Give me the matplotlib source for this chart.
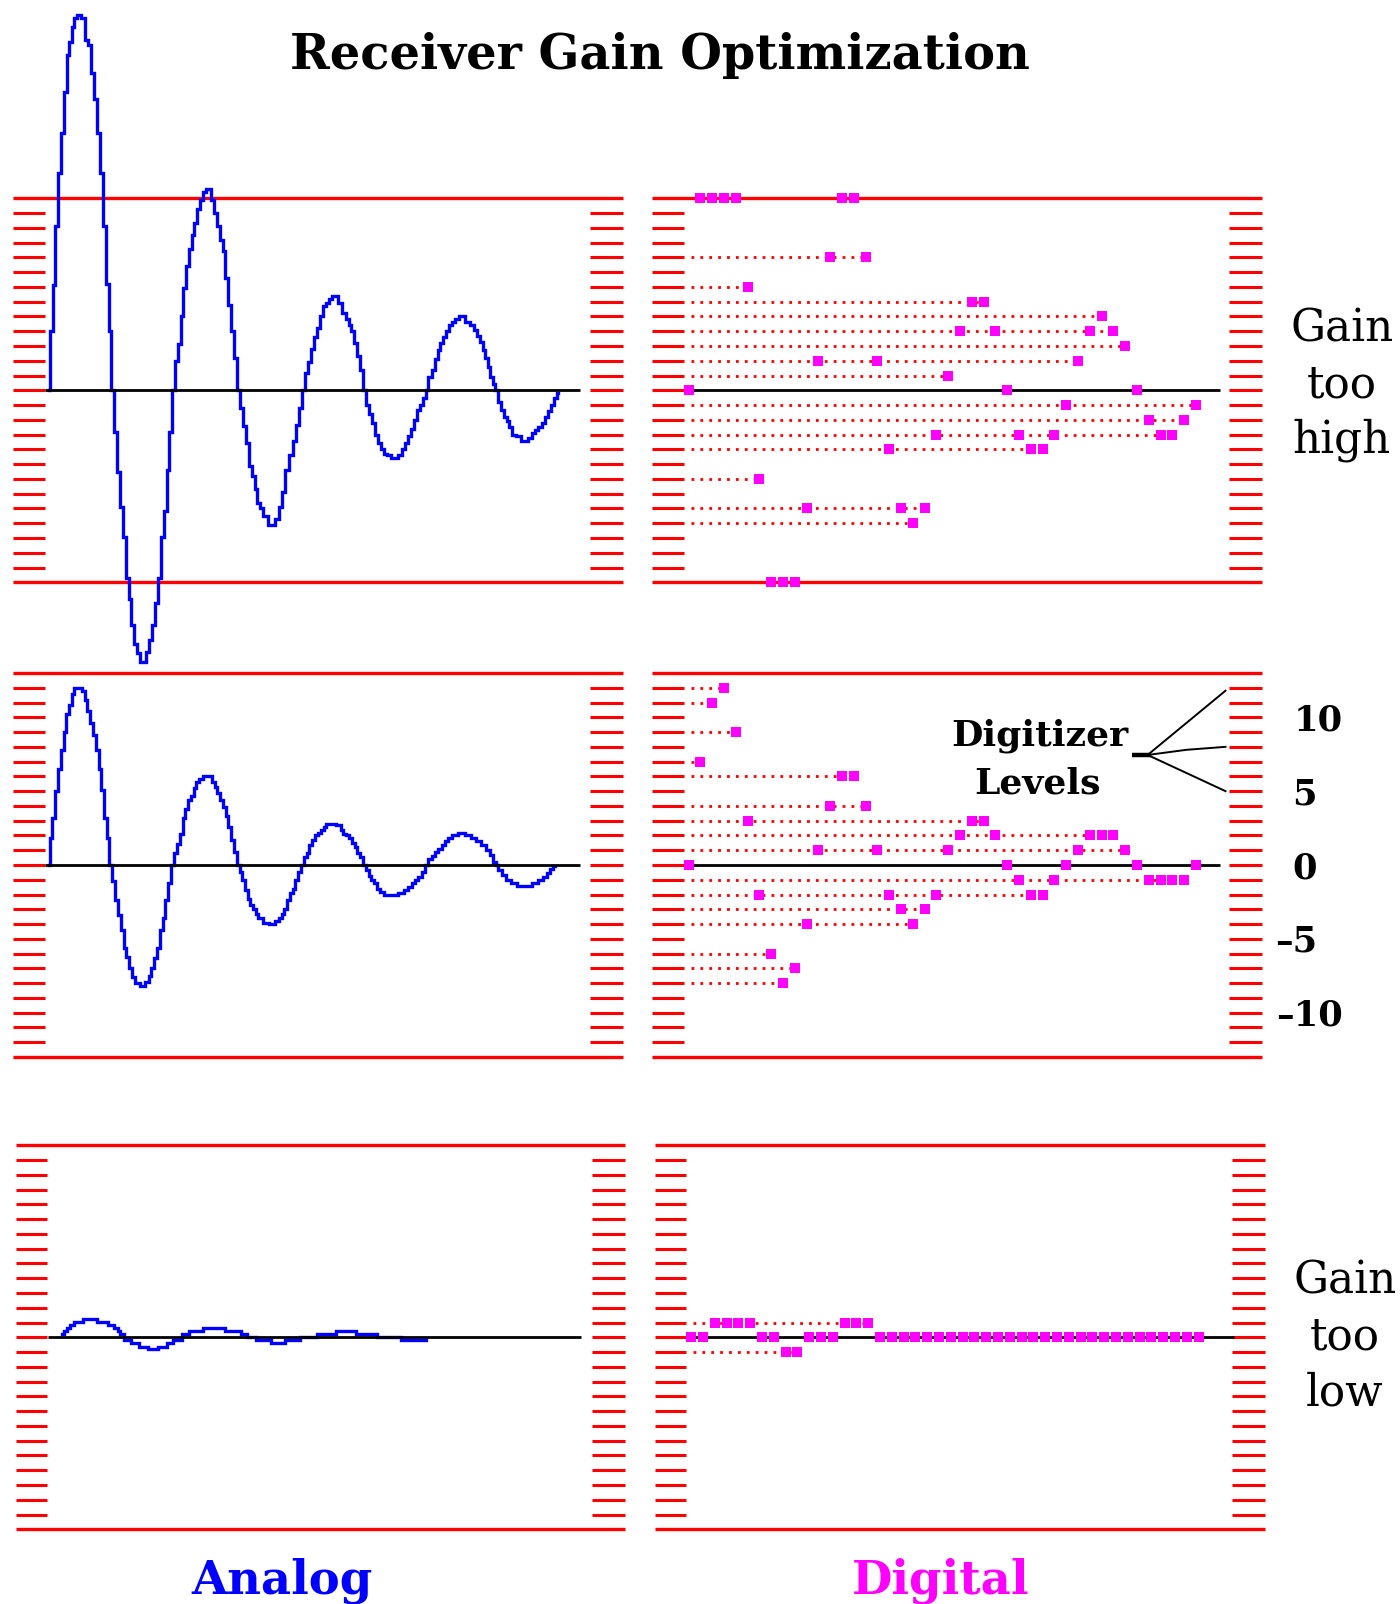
import numpy as np
import matplotlib.pyplot as plt

digital_high = [0, 13, 13, 13, 13, 7, -6, -13, -13, -13,
                -8, 2, 9, 13, 13, 9, 2, -4, -8, -9,
                -8, -3, 1, 4, 6, 6, 4, 0, -3, -4,
                -4, -3, -1, 2, 4, 5, 4, 3, 0, -2,
                -3, -3, -2, -1]
digital_mid = [0, 7, 11, 12, 9, 3, -2, -6, -8, -7,
               -4, 1, 4, 6, 6, 4, 1, -2, -3, -4,
               -3, -2, 1, 2, 3, 3, 2, 0, -1, -2,
               -2, -1, 0, 1, 2, 2, 2, 1, 0, -1,
               -1, -1, -1, 0]
digital_low = [0, 0, 1, 1, 1, 1, 0, 0, -1, -1,
               0, 0, 0, 1, 1, 1, 0, 0, 0, 0,
               0, 0, 0, 0, 0, 0, 0, 0, 0, 0,
               0, 0, 0, 0, 0, 0, 0, 0, 0, 0,
               0, 0, 0, 0]

# analog traces: (time in samples, amplitude in digitizer levels)
analog_high = [
    (0, 0), (0.14, 4.0), (0.39, 7.15), (0.63, 11.1), (0.90, 14.7), (1.15, 17.4),
    (1.36, 20.2), (1.58, 22.7), (1.80, 23.6), (2.01, 24.6), (2.21, 25.2), (2.54, 25.4),
    (2.88, 25.2), (3.12, 23.7), (3.37, 23.4), (3.61, 21.5), (3.87, 19.7), (4.13, 17.4),
    (4.39, 14.7), (4.64, 11.1), (4.89, 7.2), (5.15, 4.0), (5.28, 0),
    (5.62, -2.8), (5.87, -5.5), (6.08, -7.9), (6.34, -9.9), (6.60, -12.7), (6.83, -14.1),
    (7.06, -15.9), (7.28, -17.2), (7.51, -17.8), (7.93, -18.4), (8.36, -17.7), (8.60, -16.9),
    (8.84, -15.9), (9.08, -14.4), (9.33, -12.7), (9.58, -9.9), (9.82, -8.2), (10.05, -5.4),
    (10.29, -2.8), (10.50, 0),
    (10.76, 2.0), (11.00, 3.15), (11.24, 5.0), (11.46, 6.9), (11.70, 8.4), (11.94, 9.6),
    (12.17, 10.5), (12.41, 11.3), (12.65, 12.3), (12.88, 12.9), (13.10, 13.4), (13.48, 13.6),
    (13.85, 12.9), (14.06, 12.0), (14.30, 11.1), (14.56, 10.2), (14.80, 9.4), (15.04, 7.6),
    (15.29, 5.8), (15.53, 4.0), (15.77, 2.2), (16.04, 0),
    (16.27, -1.2), (16.53, -2.4), (16.79, -3.6), (17.03, -5.1), (17.27, -5.8), (17.51, -6.7),
    (17.73, -7.6), (17.96, -8.0), (18.24, -8.5), (18.83, -9.1), (19.35, -8.7), (19.58, -7.9),
    (19.84, -6.9), (20.06, -5.4), (20.5, -4.4), (20.76, -3.4), (21.0, -2.35), (21.25, -1.2),
    (21.5, 0),
    (21.8, 1.2), (22.02, 1.9), (22.28, 2.8), (22.54, 3.6), (22.79, 4.2), (23.04, 5.0),
    (23.3, 5.7), (23.55, 5.9), (23.78, 6.2), (24.2, 6.4), (24.68, 5.9), (24.97, 5.2),
    (25.22, 4.8), (25.48, 4.4), (25.7, 4.0), (25.98, 3.2), (26.24, 2.3), (26.46, 1.4),
    (26.69, 0),
    (26.95, -1.0), (27.2, -1.6), (27.45, -2.2), (27.68, -3.0), (27.96, -3.6), (28.22, -4.0),
    (28.45, -4.3), (28.7, -4.4), (29.26, -4.6), (29.74, -4.4), (29.99, -4.0), (30.25, -3.6),
    (30.5, -3.1), (30.76, -2.6), (31.01, -2.0), (31.27, -1.3), (31.55, -1.0), (31.8, -0.5),
    (31.97, 0),
    (32.25, 0.9), (32.53, 1.4), (32.76, 2.1), (33.02, 2.7), (33.24, 3.2), (33.5, 3.6),
    (33.72, 4.0), (33.98, 4.4), (34.23, 4.65), (34.49, 4.8), (35.0, 5.0), (35.5, 4.65),
    (35.84, 4.4), (36.07, 4.1), (36.35, 3.7), (36.6, 3.3), (36.83, 2.7), (37.06, 2.2),
    (37.28, 1.6), (37.48, 0.9), (37.68, 0.4), (37.9, 0),
    (38.16, -0.8), (38.38, -1.3), (38.64, -1.8), (38.86, -2.1), (39.12, -2.5), (39.37, -3.0),
    (39.63, -3.1), (40.31, -3.4), (40.73, -3.2), (41.0, -2.9), (41.3, -2.7), (41.58, -2.5),
    (41.86, -2.2), (42.14, -1.8), (42.37, -1.4), (42.65, -1.0), (42.9, -0.5), (43.13, -0.15),
]
analog_mid = [
    (0, 0), (0.14, 1.8), (0.36, 3.2), (0.62, 5.0), (0.84, 6.5), (1.07, 7.8), (1.32, 9.0),
    (1.55, 10.2), (1.78, 10.8), (2.0, 11.6), (2.25, 12.0), (2.6, 12.0), (2.88, 11.8),
    (3.1, 11.2), (3.33, 10.4), (3.58, 9.6), (3.81, 8.8), (4.04, 7.8), (4.29, 6.5),
    (4.52, 5.1), (4.74, 3.2), (4.97, 1.8), (5.2, 0),
    (5.47, -1.1), (5.7, -2.4), (5.93, -3.4), (6.18, -4.4), (6.41, -5.6), (6.63, -6.2),
    (6.89, -7.0), (7.12, -7.6), (7.34, -8.0), (7.96, -8.2), (8.3, -7.9), (8.53, -7.5),
    (8.76, -7.0), (9.01, -6.3), (9.24, -5.6), (9.49, -4.4), (9.72, -3.6), (9.94, -2.4),
    (10.19, -1.2), (10.45, 0),
    (10.7, 0.8), (10.93, 1.4), (11.16, 2.1), (11.41, 3.2), (11.63, 3.8), (11.86, 4.4),
    (12.09, 4.7), (12.34, 5.2), (12.57, 5.6), (12.8, 5.8), (13.22, 6.0), (13.64, 6.0),
    (13.89, 5.6), (14.12, 5.3), (14.37, 4.9), (14.6, 4.4), (14.83, 3.95), (15.06, 3.3),
    (15.28, 2.6), (15.54, 1.7), (15.77, 0.9), (16.0, 0),
    (16.23, -0.45), (16.44, -1.0), (16.67, -1.7), (16.92, -2.3), (17.15, -2.7), (17.37, -3.0),
    (17.59, -3.3), (17.85, -3.6), (18.36, -3.95), (18.87, -4.0), (19.32, -3.8), (19.57, -3.6),
    (19.8, -3.3), (20.03, -3.0), (20.28, -2.4), (20.51, -1.9), (20.73, -1.6), (20.96, -1.0),
    (21.21, -0.45), (21.44, 0),
    (21.69, 0.55), (21.92, 0.8), (22.15, 1.35), (22.4, 1.7), (22.62, 2.0), (22.88, 2.2),
    (23.1, 2.4), (23.36, 2.6), (23.58, 2.8), (24.06, 2.8), (24.54, 2.7), (24.8, 2.4),
    (25.02, 2.1), (25.25, 2.0), (25.5, 1.8), (25.76, 1.5), (25.98, 1.2), (26.21, 0.8),
    (26.44, 0.55), (26.67, 0),
    (26.94, -0.35), (27.17, -0.75), (27.4, -1.0), (27.65, -1.2), (27.88, -1.6), (28.13, -1.8),
    (28.58, -2.0), (29.29, -2.0), (29.86, -1.9), (30.28, -1.7), (30.56, -1.5), (30.84, -1.2),
    (31.13, -1.0), (31.41, -0.8), (31.69, -0.45), (31.97, 0),
    (32.25, 0.4), (32.54, 0.6), (32.82, 0.9), (33.1, 1.1), (33.38, 1.35), (33.67, 1.6),
    (33.95, 1.8), (34.24, 2.0), (34.94, 2.15), (35.5, 2.0), (35.93, 1.8), (36.36, 1.6),
    (36.78, 1.35), (37.2, 1.0), (37.48, 0.7), (37.76, 0.2), (37.9, 0),
    (38.19, -0.35), (38.47, -0.7), (38.89, -1.0), (39.32, -1.2), (39.88, -1.4), (40.59, -1.4),
    (41.15, -1.2), (41.58, -1.0), (42.0, -0.8), (42.28, -0.55), (42.56, -0.3), (42.85, -0.1),
]
analog_low = [
    (0.84, 0.2), (1.17, 0.43), (1.44, 0.61), (1.71, 0.81), (2.01, 1.02), (3.18, 1.22),
    (4.42, 1.02), (5.09, 0.81), (5.46, 0.61), (5.66, 0.4), (5.93, 0.2),
    (6.37, -0.18), (7.04, -0.41), (7.64, -0.63), (8.58, -0.79), (9.45, -0.63), (9.99, -0.41),
    (10.59, -0.18), (11.39, 0.2), (11.93, 0.41), (13.74, 0.61), (15.58, 0.41), (16.39, 0.2),
    (16.7, 0), (17.9, -0.18), (19.17, -0.41), (20.38, -0.18), (21.6, 0),
    (23.26, 0.2), (24.9, 0.41), (26.64, 0.2), (28.5, 0), (30.66, -0.18), (31.67, -0.18),
]

W, H = 1400, 1604
PX, PY = 11.8, 14.77          # pixels per sample, pixels per level
RED, MAG, BLUE = "#ff0000", "#ff00ff", "#0000ff"
SERIF = "DejaVu Serif"

fig = plt.figure(figsize=(W / 100, H / 100), dpi=100)


def panel(x0, y0):
    """Axes whose (t=0, level=0) sits at pixel (x0, y0) from the top-left."""
    ax = fig.add_axes([(x0 - 4 * PX) / W, 1 - (y0 + 14 * PY) / H,
                       54 * PX / W, 28 * PY / H])
    ax.set_xlim(-4, 50)
    ax.set_ylim(-14, 14)
    ax.axis("off")
    lv = np.arange(-12, 13)
    ax.hlines(lv, -3.08, -0.4, color=RED, lw=2.2, capstyle="butt")
    ax.hlines(lv, 45.8, 48.6, color=RED, lw=2.2, capstyle="butt")
    ax.hlines([-13, 13], -3.08, 48.6, color=RED, lw=2.4, capstyle="butt")
    return ax


def analog(ax, pts, x_end=45.0):
    ax.plot([-0.35, x_end], [0, 0], color="black", lw=2.0, zorder=4,
            solid_capstyle="butt")
    t, v = zip(*pts)
    ax.plot(t, v, color=BLUE, lw=2.4, drawstyle="steps-mid", clip_on=False,
            zorder=3, solid_joinstyle="miter")


def digital(ax, vals, x_end=45.0):
    ax.plot([-0.35, x_end], [0, 0], color="black", lw=2.0, zorder=2,
            solid_capstyle="butt")
    vals = np.asarray(vals)
    k = np.arange(len(vals))
    for lev in np.unique(vals):
        if lev == 0 or abs(lev) >= 13:
            continue
        last = k[vals == lev].max()
        ax.plot([0.2, last], [lev, lev], color=RED, lw=2.0,
                ls=(0, (1, 2.2)), zorder=2)
    ax.plot(k, vals, ls="none", marker="s", ms=6.5, mew=0, color=MAG,
            zorder=5, clip_on=False)


ax = panel(49.4, 390.3)
analog(ax, analog_high)
ax = panel(688.6, 390.3)
digital(ax, digital_high)

ax = panel(49.4, 865.0)
analog(ax, analog_mid)
ax_dm = panel(688.6, 865.0)
digital(ax_dm, digital_mid)

ax = panel(51.9, 1337.3)
analog(ax, analog_low, x_end=44.8)
ax = panel(691.1, 1337.3)
digital(ax, digital_low, x_end=46.0)

# pointer from "Digitizer Levels" to the scale
ax_dm.plot([37.6, 39.2], [7.45, 7.45], color="black", lw=3.2, solid_capstyle="butt")
ax_dm.plot([38.9, 45.5], [7.45, 11.8], color="black", lw=1.4)
ax_dm.plot([38.9, 42.2, 45.5], [7.45, 7.8, 8.0], color="black", lw=1.4)
ax_dm.plot([38.9, 45.5], [7.45, 5.0], color="black", lw=1.4)


def ftext(x, y, s, **kw):
    fig.text(x / W, 1 - y / H, s, ha=kw.pop("ha", "center"), va="baseline",
             family=SERIF, **kw)


ftext(660, 69, "Receiver Gain Optimization", fontsize=34.5, fontweight="bold")

for s, y in zip(["Gain", "too", "high"], [342, 397, 452]):
    ftext(1342, y, s, fontsize=31.5)
for s, y in zip(["Gain", "too", "low"], [1294, 1350, 1405]):
    ftext(1345, y, s, fontsize=31.5)

ftext(1040, 746, "Digitizer", fontsize=26, fontweight="bold")
ftext(1038, 793, "Levels", fontsize=26, fontweight="bold")

for lev in [10, 5, 0, -5, -10]:
    xr = 1343 if abs(lev) == 10 else 1317
    ftext(xr, 865 - lev * PY + 13, str(lev).replace("-", "\u2013") if lev < 0 else str(lev),
          fontsize=25.5, fontweight="bold", ha="right")

ftext(282, 1594, "Analog", fontsize=33.5, fontweight="bold", color=BLUE)
ftext(941, 1593, "Digital", fontsize=33.5, fontweight="bold", color=MAG)

fig.savefig("out.png", dpi=100, facecolor="white")
